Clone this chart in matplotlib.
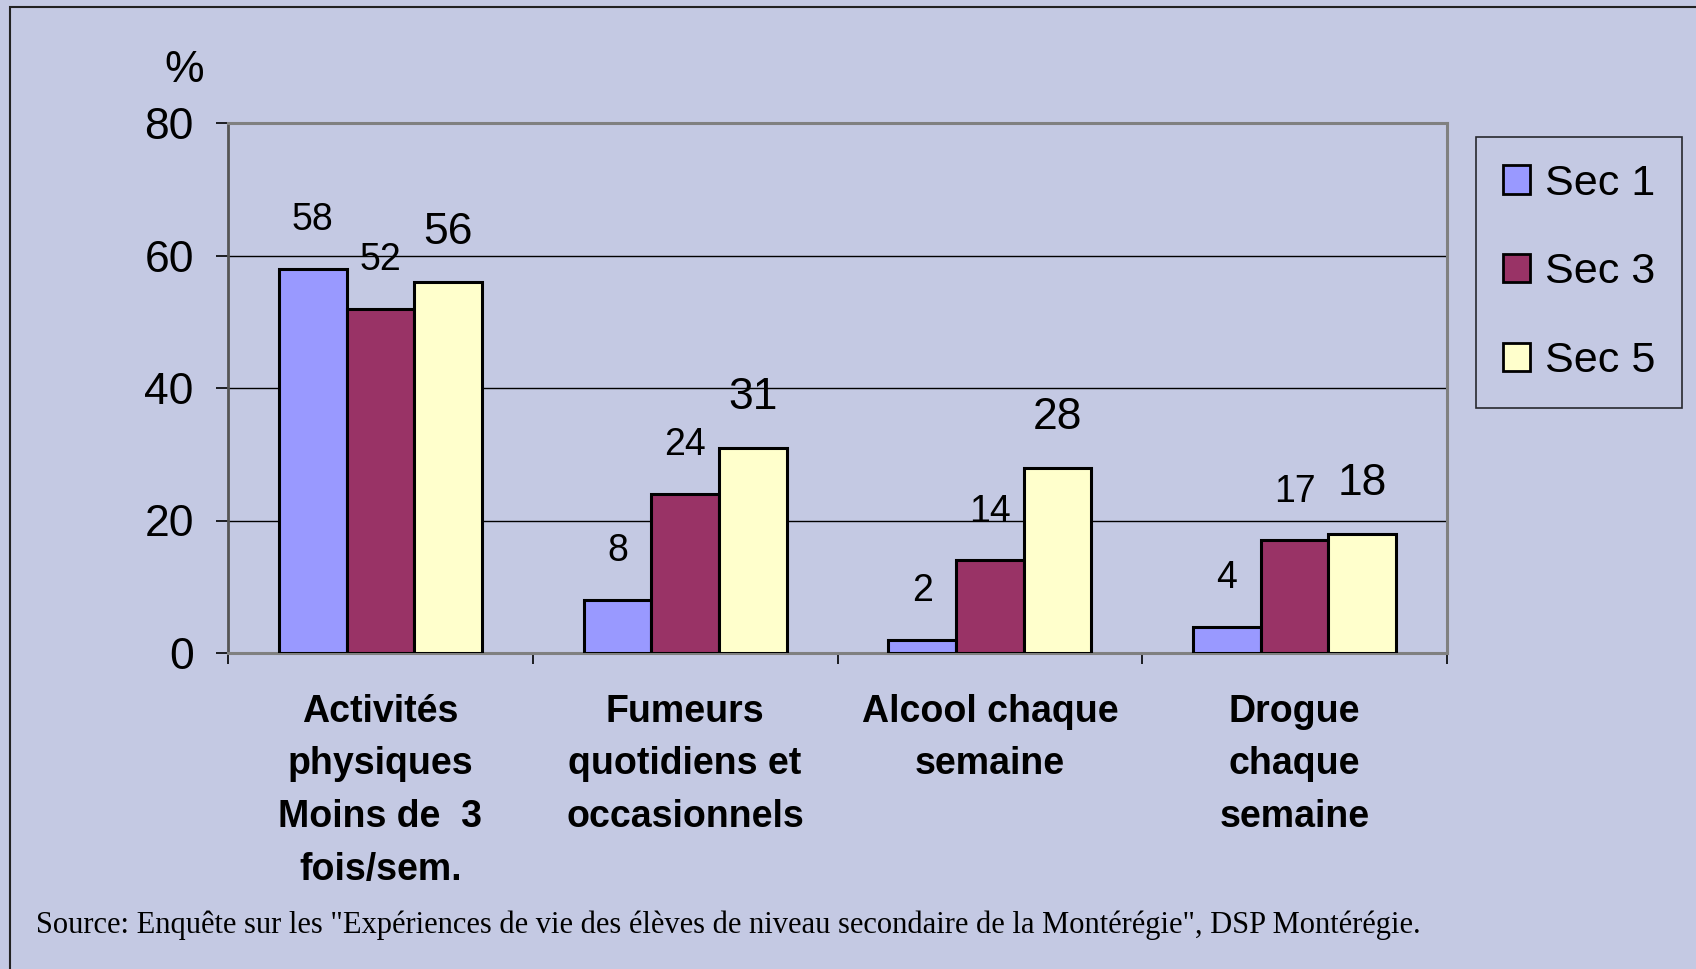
import matplotlib
matplotlib.use("Agg")
import matplotlib.pyplot as plt
import numpy as np
from matplotlib.patches import Patch, Rectangle

categories = ["Activités\nphysiques\nMoins de  3\nfois/sem.",
              "Fumeurs\nquotidiens et\noccasionnels",
              "Alcool chaque\nsemaine",
              "Drogue\nchaque\nsemaine"]
series_names = ["Sec 1", "Sec 3", "Sec 5"]
sec1 = [58, 8, 2, 4]
sec3 = [52, 24, 14, 17]
sec5 = [56, 31, 28, 18]
y_ticks = [0, 20, 40, 60, 80]
y_unit = "%"
source = ('Source: Enquête sur les "Expériences de vie des élèves de niveau '
          'secondaire de la Montérégie", DSP Montérégie.')

W, H = 1696, 969
plt.rcParams['font.family'] = ['Liberation Sans', 'DejaVu Sans']
fig = plt.figure(figsize=(W / 100, H / 100), dpi=100)
bg = "#c4c9e3"
fig.patch.set_facecolor(bg)

ax = fig.add_axes([228 / W, 1 - 653 / H, (1447 - 228) / W, (653 - 123) / H])
ax.set_facecolor("none")

x = np.arange(len(categories))
bw = 1 / 4.5
colors = ["#9999ff", "#993366", "#ffffcc"]
label_sizes = [27, 27, 32]
label_offsets = [35, 35, 36]
for i, (vals, c, name, fs, off) in enumerate(zip([sec1, sec3, sec5], colors, series_names,
                                                 label_sizes, label_offsets)):
    pos = x + (i - 1) * bw
    ax.bar(pos, vals, bw, color=c, edgecolor="black", linewidth=2.2, label=name, zorder=3)
    for p, v in zip(pos, vals):
        ax.annotate(str(v), (p, v), xytext=(0, off), textcoords="offset points",
                    ha="center", va="center", fontsize=fs)

ax.set_xlim(-0.5, len(categories) - 0.5)
ax.set_ylim(y_ticks[0], y_ticks[-1])
ax.set_yticks(y_ticks)
ax.yaxis.grid(True, color="black", linewidth=1)
ax.set_axisbelow(True)
ax.tick_params(axis="y", labelsize=32, length=8.6, width=1.2, pad=16, direction="out")

ax.set_xticks(np.arange(-0.5, len(categories), 1))
ax.set_xticklabels([])
ax.set_xticks(x, minor=True)
ax.set_xticklabels(categories, minor=True, fontsize=27, fontweight="bold", linespacing=1.59)
ax.tick_params(axis="x", which="minor", length=0, pad=29.5)
ax.tick_params(axis="x", which="major", length=8, width=1.2, direction="out")

for s in ["top", "right", "bottom"]:
    ax.spines[s].set_color("#808080")
    ax.spines[s].set_linewidth(2.2)
ax.spines["left"].set_color("#555555")
ax.spines["left"].set_linewidth(2)

handles = [Patch(facecolor=c, edgecolor="black", linewidth=2, label=n)
           for c, n in zip(colors, series_names)]
leg = fig.legend(handles=handles, loc="upper left", bbox_to_anchor=(1476 / W, 1 - 137 / H),
                 fontsize=31, handlelength=0.63, handleheight=0.63, handletextpad=0.36,
                 borderpad=0.62, labelspacing=1.13, borderaxespad=0, fancybox=False)
leg.get_frame().set_edgecolor("black")
leg.get_frame().set_linewidth(1.2)
leg.get_frame().set_facecolor("none")

fig.text(184 / W, 1 - 70 / H, y_unit, fontsize=32, ha="center", va="center")
fig.text(36 / W, 1 - 925 / H, source, fontsize=22, va="center", ha="left",
         family=["Liberation Serif", "DejaVu Serif"])

fig.add_artist(Rectangle((10 / W, -0.1), 2, 1.1 - 7 / H, transform=fig.transFigure,
                         fill=False, edgecolor="#222222", linewidth=1.5))

fig.savefig("out.png", dpi=100, facecolor=bg)
